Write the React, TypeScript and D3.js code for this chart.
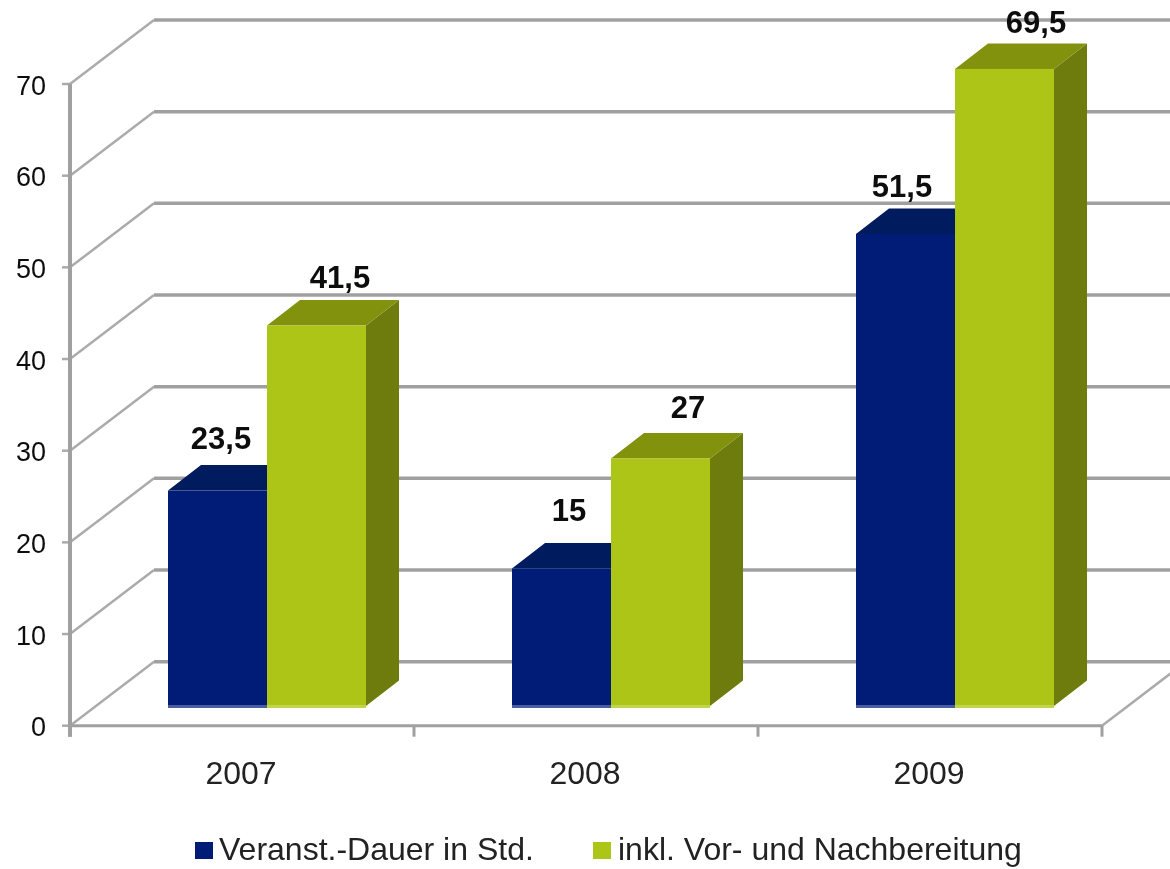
import React from "react";
import * as d3 from "d3";

const categories = ["2007", "2008", "2009"];
const seriesNames = ["Veranst.-Dauer in Std.", "inkl. Vor- und Nachbereitung"];
const dauer = [23.5, 15, 51.5];
const inkl = [41.5, 27, 69.5];
const dauerLabels = ["23,5", "15", "51,5"];
const inklLabels = ["41,5", "27", "69,5"];
const yTicks = [0, 10, 20, 30, 40, 50, 60, 70];

const W = 1170, H = 869;
const font = "'Liberation Sans', Arial, sans-serif";
const gridCol = "#a0a0a0";
const diagCol = "#ababab";

const y = d3.scaleLinear().domain([0, 70]).range([725.7, 84]);
const x = d3.scaleBand<string>().domain(categories).range([70, 1102]).paddingInner(0).paddingOuter(0);
const inner = d3.scaleBand<string>().domain(["a", "b"]).range([73, 271]).padding(0);

const DX = 84, DY = -64;      // floor depth
const bx = 25, by = -19.7;    // bar front offset
const sx = 33, sy = -25.5;    // bar depth

// label placement relative to the bar's front-top corner
const dauerNudge = [[53, -42], [57, -47], [46, -37]];
const inklNudge = [[73, -38], [77, -40], [81, -36]];

const palette = [
  { front: "#021f76", top: "#011a5e", side: "#011a5e", base: "#4a5f9f" },
  { front: "#adc513", top: "#82920e", side: "#6d7c0b", base: "#c0d44e" },
];

const Bar = ({ x0, w, v, c }: { x0: number; w: number; v: number; c: typeof palette[number] }) => {
  const yb = y(0) + by;
  const yt = y(v) + by;
  const x1 = x0 + w;
  return (
    <g>
      <polygon points={`${x1},${yt} ${x1 + sx},${yt + sy} ${x1 + sx},${yb + sy} ${x1},${yb}`} fill={c.side} />
      <polygon points={`${x0},${yt} ${x0 + sx},${yt + sy} ${x1 + sx},${yt + sy} ${x1},${yt}`} fill={c.top} />
      <rect x={x0} y={yt} width={w} height={yb - yt} fill={c.front} />
      <rect x={x0} y={yb - 1} width={w} height={3} fill={c.base} />
    </g>
  );
};

export default function App() {
  const x0 = x.range()[0];
  const x1 = x.range()[1];
  return (
    <svg width={W} height={H} viewBox={`0 0 ${W} ${H}`}
      style={{ position: "absolute", left: 0, top: 0, background: "#fff" }}>
      <defs>
        <filter id="soft" x="-5%" y="-5%" width="110%" height="110%">
          <feGaussianBlur stdDeviation="0.7" />
        </filter>
      </defs>
      <g filter="url(#soft)">
        {yTicks.map((t) => (
          <g key={t}>
            <line x1={x0} x2={x0 + DX} y1={y(t)} y2={y(t) + DY} stroke={diagCol} strokeWidth={2.5} />
            <line x1={x0 + DX} x2={W + 10} y1={y(t) + DY} y2={y(t) + DY} stroke={gridCol} strokeWidth={3.5} />
            <line x1={x0 - 8} x2={x0} y1={y(t)} y2={y(t)} stroke={diagCol} strokeWidth={2.5} />
            <text x={46} y={y(t) + 10.5} textAnchor="end" fontFamily={font} fontSize={27} fill="#111">{t}</text>
          </g>
        ))}
        <line x1={x0} x2={x0} y1={y(70)} y2={y(0) + 11} stroke={gridCol} strokeWidth={4} />
        <line x1={x0} x2={x1} y1={y(0)} y2={y(0)} stroke={gridCol} strokeWidth={3} />
        <line x1={x1} x2={x1 + DX} y1={y(0)} y2={y(0) + DY} stroke={diagCol} strokeWidth={2.5} />
        {categories.map((c) => (
          <line key={c} x1={x(c)!} x2={x(c)!} y1={y(0)} y2={y(0) + 11} stroke={gridCol} strokeWidth={3} />
        ))}
        <line x1={x1} x2={x1} y1={y(0)} y2={y(0) + 11} stroke={gridCol} strokeWidth={3} />

        {categories.map((c, i) => {
          const b = x(c)!;
          const xa = b + inner("a")! + bx;
          const xb = b + inner("b")! + bx;
          const w = inner.bandwidth();
          return (
            <g key={c}>
              <Bar x0={xa} w={w} v={dauer[i]} c={palette[0]} />
              <Bar x0={xb} w={w} v={inkl[i]} c={palette[1]} />
              <text x={xa + dauerNudge[i][0]} y={y(dauer[i]) + by + dauerNudge[i][1]} textAnchor="middle" fontFamily={font}
                fontSize={31} fontWeight="bold" fill="#111">{dauerLabels[i]}</text>
              <text x={xb + inklNudge[i][0]} y={y(inkl[i]) + by + inklNudge[i][1]} textAnchor="middle" fontFamily={font}
                fontSize={31} fontWeight="bold" fill="#111">{inklLabels[i]}</text>
              <text x={b + x.bandwidth() / 2 - 1} y={784} textAnchor="middle" fontFamily={font}
                fontSize={32} fill="#222">{c}</text>
            </g>
          );
        })}

        <rect x={195} y={842} width={18} height={17} fill={palette[0].front} />
        <text x={219} y={860} fontFamily={font} fontSize={32} fill="#222">{seriesNames[0]}</text>
        <rect x={593} y={842} width={18} height={17} fill={palette[1].front} />
        <text x={618} y={860} fontFamily={font} fontSize={32} fill="#222">{seriesNames[1]}</text>
      </g>
    </svg>
  );
}
